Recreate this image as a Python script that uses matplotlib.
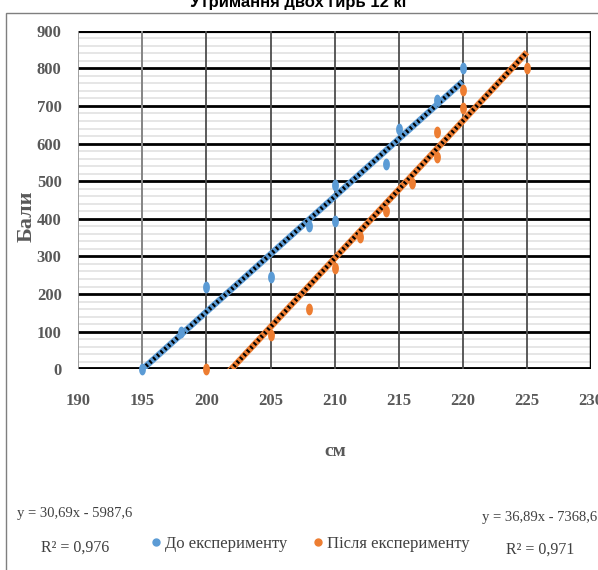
import numpy as np
import matplotlib
matplotlib.use("Agg")
import matplotlib.pyplot as plt
from matplotlib.lines import Line2D
from matplotlib.patches import Rectangle

# Height (cm) vs. points, before and after the experiment
x_before = [195, 198, 200, 205, 208, 210, 210, 214, 215, 218, 220]
y_before = [0, 100, 220, 245, 380, 490, 395, 545, 640, 715, 800]
x_after = [200, 205, 208, 210, 212, 214, 216, 218, 218, 220, 220, 225]
y_after = [0, 90, 160, 270, 352, 420, 495, 565, 630, 695, 742, 800]

series_names = ["До експерименту", "Після експерименту"]
title = "Утримання двох гирь 12 кг"
eq_before = "y = 30,69x - 5987,6"
r2_before = "R² = 0,976"
eq_after = "y = 36,89x - 7368,6"
r2_after = "R² = 0,971"

x_ticks = list(range(190, 231, 5))
y_ticks = list(range(0, 901, 100))

BLUE = "#5B9BD5"
ORANGE = "#ED7D31"
TXT = "#595959"
SERIF = ["Liberation Serif", "DejaVu Serif"]

W, H = 598, 570
fig = plt.figure(figsize=(W / 100, H / 100), dpi=100)
fig.patch.set_facecolor("white")

# outer chart frame
fig.add_artist(Rectangle((6 / W, -0.1), 1.2, (H - 13) / H + 0.1,
                         transform=fig.transFigure, fill=False,
                         edgecolor="#7f7f7f", lw=1.0))

fig.text(0.5, 1 - 2 / H, title, ha="center", va="center",
         fontsize=12, fontweight="bold", family="Liberation Sans", color="black")

ax = fig.add_axes([78.3 / W, 200.7 / H, (591 - 78.3) / W, (369.3 - 30.7) / H])
ax.set_xlim(190, 230)
ax.set_ylim(0, 900)

# grid
for yv in np.arange(0, 901, 20):
    if yv % 100:
        ax.axhline(yv, color="#e4e4e4", lw=1.3, zorder=0)
for yv in y_ticks:
    lw = 2.0
    if yv == 900:
        lw = 3.0
    if yv == 0:
        lw = 3.5
    ax.axhline(yv, color="black", lw=lw, zorder=1)
for xv in x_ticks[1:-1]:
    ax.axvline(xv, color="#4d4d4d", lw=1.3, zorder=1)
ax.axvline(195, color="#8c8c8c", lw=1.3, zorder=1)
ax.axvline(190, color="#999999", lw=1.3, zorder=1)
ax.axvline(230, color="black", lw=2.5, zorder=1)
for s in ax.spines.values():
    s.set_visible(False)

ax.set_xticks(x_ticks)
ax.set_yticks(y_ticks)
ax.tick_params(length=0, labelsize=12, labelcolor=TXT)
ax.tick_params(axis="x", pad=17)
ax.tick_params(axis="y", pad=12)
for lab in ax.get_xticklabels() + ax.get_yticklabels():
    lab.set_family(SERIF)
    lab.set_fontweight("bold")

# trendlines (least squares fits)
for xs, ys, col in [(x_before, y_before, BLUE), (x_after, y_after, ORANGE)]:
    k, b = np.polyfit(xs, ys, 1)
    xl = np.array([min(xs), max(xs)])
    ax.plot(xl, k * xl + b, color=col, lw=4.5, zorder=3, solid_capstyle="butt")
    ax.plot(xl, k * xl + b, color="black", lw=3.0, zorder=3,
            linestyle=(0, (0.5, 0.7)), dash_capstyle="butt")

# vertical-ellipse markers
t = np.linspace(0, 2 * np.pi, 40)
ellipse = list(zip(0.58 * np.cos(t), np.sin(t)))
ax.plot(x_before, y_before, linestyle="none", marker=ellipse, ms=8.5,
        color=BLUE, mec="none", zorder=4, clip_on=False)
ax.plot(x_after, y_after, linestyle="none", marker=ellipse, ms=8.5,
        color=ORANGE, mec="none", zorder=4, clip_on=False)

fig.text(27 / W, 1 - 216 / H, "Бали", rotation=90, ha="center", va="center",
         fontsize=16, fontweight="bold", family=SERIF, color=TXT)
fig.text(335 / W, 1 - 452 / H, "см", ha="center", va="center",
         fontsize=14, fontweight="bold", family=SERIF, color=TXT)

# equations
eq_kw = dict(ha="center", va="center", fontsize=10.5, family=SERIF, color="#404040")
r2_kw = dict(eq_kw, fontsize=11.5)
fig.text(75 / W, 1 - 514 / H, eq_before, **eq_kw)
fig.text(75 / W, 1 - 548 / H, r2_before, **r2_kw)
fig.text(482 / W, 1 - 517 / H, eq_after, ha="left", va="center", fontsize=10.5,
         family=SERIF, color="#404040")
fig.text(540 / W, 1 - 550 / H, r2_after, **r2_kw)

handles = [Line2D([], [], linestyle="none", marker="o", ms=5, color=BLUE),
           Line2D([], [], linestyle="none", marker="o", ms=5, color=ORANGE)]
leg = fig.legend(handles, series_names, loc="center", bbox_to_anchor=(311 / W, 1 - 544 / H),
                 ncol=2, frameon=False, handlelength=0.5, handletextpad=0.3,
                 columnspacing=1.6, prop={"family": SERIF, "size": 12})
for txt in leg.get_texts():
    txt.set_color("#404040")

fig.savefig("out.png", dpi=100, facecolor="white")
